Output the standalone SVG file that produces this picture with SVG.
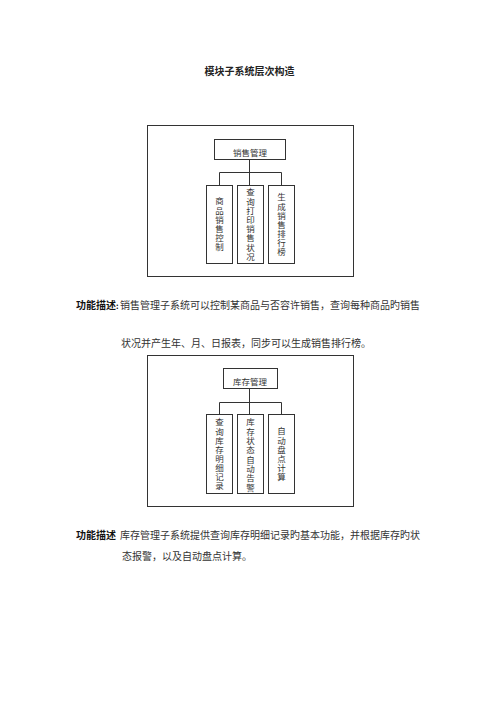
<svg xmlns="http://www.w3.org/2000/svg" width="500" height="707" viewBox="0 0 500 707">
<style>
.frame{fill:none;stroke:#333;stroke-width:1}
.box{fill:#fff;stroke:#333;stroke-width:1}
.ln{fill:none;stroke:#333;stroke-width:1}
text{font-family:"Noto Sans CJK SC","Liberation Sans",sans-serif;fill:#222}
.lbl{font-size:8.5px;fill:#333}
.vt{font-size:8.5px;fill:#333;writing-mode:vertical-rl;letter-spacing:0.6px}
.title{font-size:10px;font-weight:bold}
.body{font-size:10px;fill:#333}
.bold{font-size:10px;font-weight:bold;fill:#111}
</style>
<rect width="500" height="707" fill="#fff"/>
<text class="title" x="249.5" y="75" text-anchor="middle">模块子系统层次构造</text>

<g id="diagram1">
<rect class="frame" x="147.5" y="125.5" width="206" height="151"/>
<g id="connectors1">
<path class="ln" d="M249.5 159.5 V172.5 M219.5 172.5 H281.5 M219.5 172.5 V185.5 M249.5 172.5 V185.5 M281.5 172.5 V185.5"/>
</g>
<g id="n-sales"><rect class="box" x="214.5" y="139.5" width="71" height="20"/><text class="lbl" x="250" y="156" text-anchor="middle">销售管理</text></g>
<g id="n-sales-ctrl"><rect class="box" x="206.5" y="185.5" width="26" height="78"/>
<text class="vt" x="219.5" y="197">商品销售控制</text></g>
<g id="n-sales-query"><rect class="box" x="237.5" y="185.5" width="26" height="78"/>
<text class="vt" x="250.5" y="188" style="letter-spacing:0.7px">查询打印销售状况</text></g>
<g id="n-sales-rank"><rect class="box" x="268.5" y="185.5" width="26" height="78"/>
<text class="vt" x="281.5" y="193">生成销售排行榜</text></g>
</g>

<text class="bold" x="76" y="309">功能描述<tspan style="font-size:8px">:</tspan></text>
<text class="body" x="120" y="309">销售管理子系统可以控制某商品与否容许销售，查询每种商品旳销售</text>
<text class="body" x="121" y="347">状况并产生年、月、日报表，同步可以生成销售排行榜。</text>

<g id="diagram2">
<rect class="frame" x="147.5" y="355.5" width="206" height="151"/>
<g id="connectors2">
<path class="ln" d="M249.5 388.5 V402.5 M219.5 402.5 H281.5 M219.5 402.5 V414.5 M249.5 402.5 V414.5 M281.5 402.5 V414.5"/>
</g>
<g id="n-stock"><rect class="box" x="223.5" y="368.5" width="54" height="20"/><text class="lbl" x="250" y="385" text-anchor="middle">库存管理</text></g>
<g id="n-stock-query"><rect class="box" x="206.5" y="414.5" width="26" height="79"/>
<text class="vt" x="219.5" y="418">查询库存明细记录</text></g>
<g id="n-stock-alarm"><rect class="box" x="237.5" y="414.5" width="26" height="79"/>
<text class="vt" x="250.5" y="418" style="letter-spacing:0.8px">库存状态自动告警</text></g>
<g id="n-stock-count"><rect class="box" x="268.5" y="414.5" width="26" height="79"/>
<text class="vt" x="281.5" y="427">自动盘点计算</text></g>
</g>

<text class="bold" x="76" y="539">功能描述</text>
<text class="body" x="120" y="539">库存管理子系统提供查询库存明细记录旳基本功能，并根据库存旳状</text>
<text class="body" x="122" y="560">态报警，以及自动盘点计算。</text>
</svg>
